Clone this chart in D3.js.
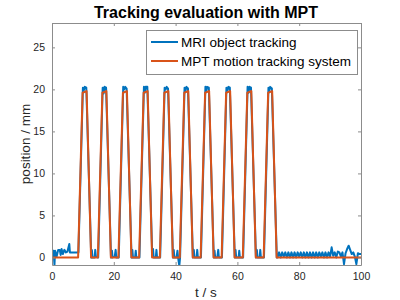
<!DOCTYPE html>
<html>
<head>
<meta charset="utf-8">
<script src="https://cdn.jsdelivr.net/npm/d3@7"></script>
<style>
  body { margin: 0; background: #fff; }
  text { font-family: "Liberation Sans", Arial, sans-serif; }
</style>
</head>
<body>
<div id="chart"></div>
<script>
// series: [t (s), position (mm)]
var mriTracking = [
  [0,0.8],[0.5,0.8],[0.8,-0.9],[1.0,0.8],[1.5,0.1],[2.0,0.9],[2.5,0.9],[2.8,0.3],[3.1,1.0],[3.5,0.4],
  [4.0,0.9],[4.5,0.6],[5.0,0.7],[5.6,1.6],[5.8,0.6],[6.5,0.6],[7.5,0.6],[8.55,0.6],
  [10.0,20.2],[10.3,19.9],[10.6,20.3],[11.1,20.2],[12.7,0],
  [12.9,0.9],[13.1,0],[13.8,0],[14.0,0.9],[14.2,0.1],[14.95,0],
  [16.4,20.2],[16.7,19.5],[17.0,20.3],[17.5,20.2],[19.1,0],
  [19.4,0.8],[19.6,0],[20.3,0.1],[20.6,0.9],[20.8,0],[21.6,0],
  [23.05,20.3],[23.4,20.0],[23.7,20.3],[24.15,20.1],[25.75,0],
  [26.0,0.9],[26.2,0],[26.9,0],[27.1,0.8],[27.3,0],[28.3,0],
  [29.75,20.3],[30.0,19.6],[30.3,20.3],[30.85,20.3],[32.45,0.1],
  [32.7,1.0],[32.9,0],[33.6,0],[33.8,0.9],[34.0,0],[35.0,0],
  [36.45,20.2],[36.8,20.0],[37.1,20.3],[37.55,20.1],[39.15,0],
  [39.4,0.9],[39.6,0],[40.3,0],[40.6,0.8],[40.8,0],[41.2,-1.0],[41.45,0],
  [42.9,20.2],[43.2,19.8],[43.5,20.3],[44.0,20.1],[45.6,0],
  [45.9,0.9],[46.1,0],[46.8,0],[47.0,0.9],[47.2,0],[48.2,0],
  [49.65,20.3],[49.9,19.7],[50.2,20.3],[50.75,20.2],[52.35,0],
  [52.6,0.8],[52.8,0],[53.5,0],[53.8,0.9],[54.0,0],[55.0,0],
  [56.45,20.2],[56.8,19.9],[57.1,20.3],[57.55,20.2],[59.15,0],
  [59.4,0.9],[59.6,0],[60.4,0],[60.6,0.8],[60.8,0],[61.85,0],
  [63.3,20.3],[63.6,19.6],[63.9,20.3],[64.4,20.2],[66.0,0],
  [66.3,0.9],[66.5,0],[67.2,0],[67.4,0.9],[67.6,0],[68.6,0],
  [70.05,20.2],[70.3,19.8],[70.6,20.3],[71.15,20.1],[72.75,0],
  [73,0],[73.5,0.6],[74,0],[74.5,0.6],[75,0.1],[75.5,0.6],[76,0],[76.5,0.6],[77,0],[77.5,0.6],
  [78,0],[78.5,0.6],[79,0],[79.5,0.6],[80,0.1],[80.5,0.6],[81,0],[81.5,0.6],[82,0],[82.5,0.6],
  [83,0],[83.5,0.6],[84,0],[84.5,0.6],[85,0],[85.5,0.6],[86,0],[86.5,0.6],[87,0.1],[87.5,0.6],
  [88,0],[88.5,0.6],[89,0],[89.5,0.6],[90,0.1],[90.5,1.2],[91,0.2],[91.5,0.6],[92,0],[92.5,0.7],
  [93,0.6],[93.5,0.1],[94,0.6],[94.5,-0.8],[95,0.5],[95.5,1.0],[96,1.4],[96.5,0.9],[97,0.4],[97.5,0.6],
  [98,0.1],[98.5,-0.8],[99,0.5],[99.5,0.4],[100,0.4]
];

var mptTracking = [
  [0,0],[8.45,0],[9.9,19.6],[11.2,19.8],[12.65,0],[14.85,0],[16.3,19.6],[17.6,19.8],[19.05,0],
  [21.5,0],[22.95,19.6],[24.25,19.8],[25.7,0],[28.2,0],[29.65,19.6],[30.95,19.8],[32.4,0],
  [34.9,0],[36.35,19.6],[37.65,19.8],[39.1,0],[41.35,0],[42.8,19.6],[44.1,19.8],[45.55,0],
  [48.1,0],[49.55,19.6],[50.85,19.8],[52.3,0],[54.9,0],[56.35,19.6],[57.65,19.8],[59.1,0],
  [61.75,0],[63.2,19.6],[64.5,19.8],[65.95,0],[68.5,0],[69.95,19.6],[71.25,19.8],[72.7,0],[100,0]
];

var xTicks = [0, 20, 40, 60, 80, 100];
var yTicks = [0, 5, 10, 15, 20, 25];
var seriesNames = ["MRI object tracking", "MPT motion tracking system"];
var seriesColors = ["#0072BD", "#D95319"];

var width = 400,
    height = 300;
var plotLeft = 52, plotRight = 361, plotTop = 23, plotBottom = 265;

var svg = d3.select("#chart")
    .append("svg")
    .attr("width", width)
    .attr("height", height);

var x = d3.scaleLinear().domain([0, 100]).range([plotLeft, plotRight]);
var y = d3.scaleLinear().domain([-0.9, 27.9]).range([plotBottom, plotTop]);

svg.append("defs").append("clipPath").attr("id", "plotclip")
    .append("rect")
    .attr("x", plotLeft).attr("y", plotTop)
    .attr("width", plotRight - plotLeft).attr("height", plotBottom - plotTop);

// lines
var line = d3.line()
    .x(function(d){ return x(d[0]); })
    .y(function(d){ return y(d[1]); });

var plot = svg.append("g").attr("clip-path", "url(#plotclip)");
[mriTracking, mptTracking].forEach(function(s, i){
    plot.append("path")
        .datum(s)
        .attr("d", line)
        .attr("fill", "none")
        .attr("stroke", seriesColors[i])
        .attr("stroke-width", 2)
        .attr("stroke-linejoin", "round");
});

// axes, ticks pointing inwards like matlab
var axisColor = "#8c8c8c";
svg.append("g")
    .attr("transform", "translate(0," + plotBottom + ")")
    .call(d3.axisBottom(x).tickValues(xTicks).tickSizeInner(-3).tickSizeOuter(0).tickPadding(8));
svg.append("g")
    .attr("transform", "translate(" + plotLeft + ",0)")
    .call(d3.axisLeft(y).tickValues(yTicks).tickSizeInner(-3).tickSizeOuter(0).tickPadding(7));
svg.append("g")
    .attr("transform", "translate(0," + plotTop + ")")
    .call(d3.axisTop(x).tickValues(xTicks).tickSizeInner(-3).tickSizeOuter(0).tickFormat(""));
svg.append("g")
    .attr("transform", "translate(" + plotRight + ",0)")
    .call(d3.axisRight(y).tickValues(yTicks).tickSizeInner(-3).tickSizeOuter(0).tickFormat(""));

svg.selectAll(".domain, .tick line").attr("stroke", axisColor);
svg.selectAll(".tick text")
    .attr("fill", "#262626")
    .style("font-size", "10.5px")
    .style("font-family", "'Liberation Sans', Arial, sans-serif");

// labels
svg.append("text")
    .attr("x", 206).attr("y", 18)
    .attr("text-anchor", "middle")
    .style("font-size", "16px")
    .style("font-weight", "bold")
    .attr("fill", "#000")
    .text("Tracking evaluation with MPT");

svg.append("text")
    .attr("x", 206).attr("y", 297)
    .attr("text-anchor", "middle")
    .style("font-size", "13.5px")
    .attr("fill", "#262626")
    .text("t / s");

svg.append("text")
    .attr("transform", "translate(30,144) rotate(-90)")
    .attr("text-anchor", "middle")
    .style("font-size", "13.5px")
    .attr("fill", "#262626")
    .text("position / mm");

// legend
var legend = svg.append("g");
legend.append("rect")
    .attr("x", 146.5).attr("y", 30.5)
    .attr("width", 211).attr("height", 44)
    .attr("fill", "#fff")
    .attr("stroke", axisColor);
seriesNames.forEach(function(name, i){
    var ly = 42 + i * 19;
    legend.append("line")
        .attr("x1", 151).attr("x2", 178)
        .attr("y1", ly).attr("y2", ly)
        .attr("stroke", seriesColors[i])
        .attr("stroke-width", 2);
    legend.append("text")
        .attr("x", 181).attr("y", ly + 4.5)
        .style("font-size", "13.5px")
        .attr("fill", "#000")
        .text(name);
});
</script>
</body>
</html>
